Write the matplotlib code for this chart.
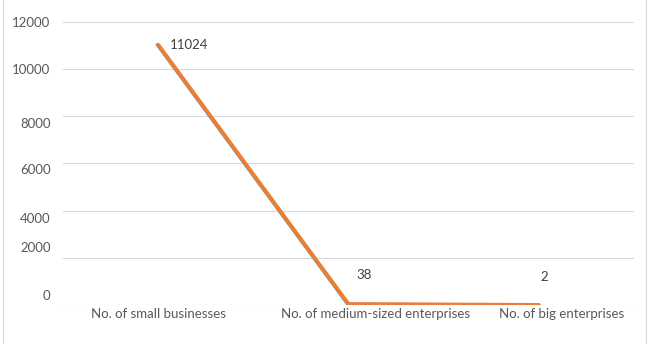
import matplotlib
matplotlib.use("Agg")
import matplotlib.pyplot as plt
import matplotlib.transforms as mtransforms

categories = ["No. of small businesses", "No. of medium-sized enterprises", "No. of big enterprises"]
values = [11024, 38, 2]
yticks = [0, 2000, 4000, 6000, 8000, 10000, 12000]
ytick_labels = ["0", "2000", "4000", "6000", "8000", "10000", "12000"]

plt.rcParams['font.family'] = ['Lato', 'DejaVu Sans']

fig = plt.figure(figsize=(6.52, 3.44), dpi=100)
ax = fig.add_axes([63/652, 1-305/344, (634-63)/652, (305-21.7)/344])

x = list(range(len(categories)))
# blue series underneath, slightly shifted
off_blue = mtransforms.offset_copy(ax.transData, fig=fig, x=-1, y=0, units='dots')
ax.plot(x, values, color='#5B9BD5', lw=2.2, transform=off_blue, solid_capstyle='round', zorder=3)
ax.plot(x, values, color='#ED7D31', lw=2.8, solid_capstyle='round', solid_joinstyle='round', zorder=4)

ax.set_xlim(-0.5, 2.5)
ax.set_ylim(0, 12000)
ax.set_yticks(yticks)
ax.set_yticklabels(ytick_labels)
ax.set_xticks(x)
ax.set_xticklabels(categories)

for s in ax.spines.values():
    s.set_visible(False)
ax.grid(axis='y', color='#d9d9d9', lw=0.8)
ax.set_axisbelow(True)
ax.tick_params(axis='both', length=0, colors='#595959', labelsize=9.5)
ax.tick_params(axis='y', pad=9)
ax.tick_params(axis='x', pad=2)

# label offsets (pixels, positive = down) as in reference
y_offsets = {"0": -10, "2000": -11, "4000": 7, "6000": 6, "8000": 6.5, "10000": 0, "12000": 0}
for lab in ax.get_yticklabels():
    dy = y_offsets.get(lab.get_text(), 0)
    lab.set_transform(lab.get_transform() + mtransforms.ScaledTranslation(0, -dy/100, fig.dpi_scale_trans))
x_offsets = [0, 27, 23]
for lab, dx in zip(ax.get_xticklabels(), x_offsets):
    lab.set_transform(lab.get_transform() + mtransforms.ScaledTranslation(dx/100, 0, fig.dpi_scale_trans))

label_offsets = [(12, 0, 'left'), (16, 29, 'center'), (5, 28, 'center')]
for xi, v, (dx, dy, ha) in zip(x, values, label_offsets):
    ax.annotate(str(v), (xi, v), xytext=(dx, dy), textcoords='offset pixels',
                ha=ha, va='center', fontsize=9.5, color='#404040')

# chart border lines
fig.add_artist(plt.Line2D([3/652, 3/652], [0, 1], color='#d9d9d9', lw=0.8, transform=fig.transFigure))
fig.add_artist(plt.Line2D([646/652, 646/652], [0, 1], color='#d9d9d9', lw=0.8, transform=fig.transFigure))

fig.savefig("out.png", dpi=100)
